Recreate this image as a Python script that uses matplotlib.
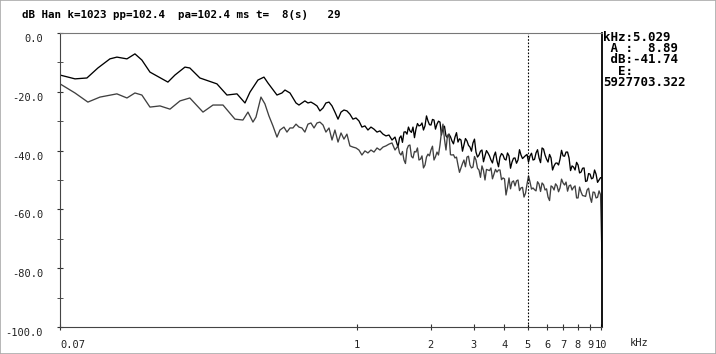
import numpy as np
import matplotlib.pyplot as plt
from matplotlib import transforms
from matplotlib.patches import Rectangle
from matplotlib.ticker import NullLocator

# Spectrum values (kHz, dB)
upper_khz_low = [0.0605, 0.0697, 0.0780, 0.0865, 0.0969, 0.1035, 0.1138, 0.1227, 0.131,
                 0.1414, 0.1675, 0.179, 0.1967, 0.206, 0.2265, 0.2536, 0.266, 0.2924,
                 0.3214, 0.3466, 0.3634, 0.3917, 0.4146, 0.4305, 0.4688, 0.4913, 0.5055]
upper_db_low = [-14.3, -15.6, -15.3, -11.9, -8.8, -8.2, -8.8, -7.1, -9.2,
                -13.3, -16.7, -14.3, -11.6, -11.9, -15.3, -16.7, -17.3, -21.1,
                -20.7, -23.8, -20.1, -16.0, -15.0, -17.0, -21.1, -20.4, -19.4]

lower_khz_low = [0.0605, 0.0697, 0.0787, 0.0882, 0.1035, 0.1138, 0.1227, 0.131, 0.1414,
                 0.1554, 0.1708, 0.1877, 0.206, 0.2332, 0.2563, 0.2817, 0.3153, 0.3400,
                 0.3565, 0.3737, 0.3845, 0.4030, 0.4183, 0.4345, 0.4513, 0.4688, 0.4822,
                 0.5007, 0.5151]
lower_db_low = [-17.3, -20.4, -23.5, -21.8, -20.7, -22.1, -20.4, -21.1, -25.2,
                -24.8, -25.9, -23.1, -22.1, -26.9, -24.5, -24.5, -29.3, -29.6,
                -26.9, -30.3, -28.6, -21.8, -24.1, -28.2, -31.6, -35.4, -33.0,
                -32.0, -33.7]

grid_khz = [0.530, 0.545, 0.561, 0.577, 0.593, 0.610, 0.628, 0.646, 0.665, 0.684,
            0.703, 0.724, 0.744, 0.766, 0.788, 0.810, 0.834, 0.858, 0.882, 0.907,
            0.933, 0.960, 0.988, 1.016, 1.045, 1.075, 1.106, 1.138, 1.171, 1.205,
            1.239, 1.275, 1.311, 1.349, 1.388, 1.428, 1.469, 1.511, 1.554, 1.599,
            1.644, 1.692, 1.740, 1.790, 1.842, 1.895, 1.949, 2.005, 2.063, 2.122,
            2.183, 2.245, 2.310, 2.376, 2.444, 2.515, 2.587, 2.661, 2.737, 2.816,
            2.897, 2.980, 3.066, 3.154, 3.244, 3.338, 3.433, 3.532, 3.633, 3.738,
            3.846, 3.956, 4.070, 4.187, 4.307, 4.431, 4.558, 4.689, 4.824, 4.963,
            5.105, 5.252, 5.403, 5.559, 5.719, 5.883, 6.052, 6.226, 6.405, 6.589,
            6.776, 6.973, 7.173, 7.379, 7.591, 7.810, 8.034, 8.265, 8.503, 8.747,
            8.995, 9.254, 9.520, 9.793, 10.07]
upper_db_grid = [-20.4, -22.1, -23.8, -24.5, -23.8, -23.1, -23.8, -23.5, -24.1, -24.8,
                 -26.5, -25.5, -23.8, -23.5, -24.8, -26.9, -29.3, -26.9, -26.2, -26.5,
                 -27.6, -29.3, -28.9, -29.9, -32.0, -31.6, -33.0, -32.0, -32.7, -33.7,
                 -33.3, -34.4, -35.0, -34.7, -36.4, -35.4, -38.8, -35.0, -33.7, -34.4,
                 -33.3, -32.0, -32.7, -31.6, -30.6, -31.6, -29.9, -31.3, -29.6, -31.0,
                 -30.3, -32.0, -35.0, -34.4, -36.7, -35.4, -37.1, -36.4, -38.1, -36.7,
                 -38.8, -37.4, -40.5, -41.5, -39.8, -41.8, -40.8, -43.2, -41.8, -43.5,
                 -42.2, -41.5, -43.2, -41.8, -43.9, -42.5, -43.2, -41.5, -42.2, -41.3,
                 -41.8, -43.2, -40.8, -42.5, -39.1, -41.5, -43.9, -42.5, -45.2, -44.2,
                 -42.9, -41.8, -40.5, -42.5, -45.2, -46.6, -44.9, -47.3, -45.9, -50.3,
                 -48.0, -49.3, -48.0, -50.0, -49.3]
lower_db_grid = [-32.3, -32.3, -31.0, -32.0, -32.3, -33.7, -31.0, -30.6, -32.3, -30.6,
                 -30.3, -31.3, -33.7, -32.3, -36.4, -33.0, -37.1, -34.0, -36.1, -34.4,
                 -38.4, -38.8, -39.1, -39.8, -41.5, -40.1, -40.8, -39.8, -40.5, -39.1,
                 -39.8, -38.8, -38.4, -37.8, -37.4, -39.8, -38.4, -41.5, -43.2, -39.5,
                 -38.1, -42.5, -40.5, -43.2, -41.8, -44.9, -41.2, -39.8, -43.2, -40.5,
                 -38.1, -31.0, -39.8, -34.4, -41.5, -42.5, -44.9, -45.9, -43.2, -42.2,
                 -44.9, -45.6, -43.2, -46.6, -45.2, -50.0, -46.6, -45.9, -48.0, -47.3,
                 -46.6, -49.3, -55.1, -49.3, -50.7, -52.0, -50.0, -52.7, -55.8, -51.4,
                 -50.7, -52.7, -53.7, -51.4, -51.0, -53.4, -55.8, -52.0, -53.4, -52.0,
                 -52.7, -51.0, -50.7, -52.0, -53.4, -52.0, -56.1, -54.1, -55.4, -53.4,
                 -55.8, -54.1, -56.1, -53.7, -76.5]

# extra bins between the grid points above 1.47 kHz, where the traces get dense
mid_khz = [1.490, 1.532, 1.576, 1.621, 1.668, 1.716, 1.765, 1.816, 1.868, 1.922,
           1.977, 2.034, 2.092, 2.152, 2.214, 2.277, 2.343, 2.410, 2.479, 2.551,
           2.624, 2.699, 2.776, 2.856, 2.938, 3.023, 3.110, 3.199, 3.291, 3.385,
           3.482, 3.582, 3.685, 3.792, 3.901, 4.013, 4.128, 4.247, 4.369, 4.494,
           4.623, 4.756, 4.893, 5.034, 5.178, 5.327, 5.481, 5.639, 5.801, 5.967,
           6.139, 6.315, 6.497, 6.682, 6.874, 7.073, 7.276, 7.485, 7.700, 7.922,
           8.149, 8.384, 8.625, 8.871, 9.124, 9.387, 9.656, 9.931]
upper_db_mid = [-35.7, -37.2, -33.6, -32.0, -33.8, -35.6, -30.8, -31.4, -33.0, -28.2,
                -31.2, -29.4, -32.7, -30.0, -34.7, -31.7, -35.6, -35.3, -37.7, -33.9,
                -36.0, -40.2, -35.9, -38.2, -40.2, -36.1, -42.2, -40.2, -43.8, -40.0,
                -41.8, -44.2, -40.5, -45.5, -41.0, -42.9, -40.8, -46.0, -42.6, -44.3,
                -39.7, -42.7, -41.7, -43.9, -40.9, -43.0, -39.7, -44.1, -39.5, -42.9,
                -41.3, -46.6, -44.3, -44.9, -39.9, -41.9, -40.5, -46.8, -45.6, -44.0,
                -47.6, -46.0, -50.5, -47.8, -49.6, -46.6, -50.8, -49.2]
lower_db_mid = [-40.8, -40.3, -44.4, -38.3, -42.0, -40.3, -39.1, -42.9, -45.9, -42.2,
                -41.8, -38.5, -42.1, -41.5, -33.6, -36.1, -34.8, -41.4, -41.4, -42.2,
                -47.4, -44.4, -45.5, -41.9, -45.9, -42.0, -46.0, -49.1, -46.8, -46.4,
                -46.8, -49.6, -46.4, -46.6, -49.9, -49.6, -52.5, -53.0, -50.3, -50.3,
                -53.6, -52.5, -54.5, -48.6, -53.1, -53.3, -50.6, -53.9, -51.6, -53.0,
                -57.0, -52.4, -51.3, -54.0, -49.7, -51.7, -53.8, -51.7, -52.5, -56.1,
                -52.4, -55.3, -55.6, -52.8, -57.6, -54.2, -55.9, -55.0]

cursor_khz = 5.029
title_text = "dB Han k=1023 pp=102.4  pa=102.4 ms t=  8(s)   29"
readout = ["kHz:5.029", " A :  8.89", " dB:-41.74", "  E:", "5927703.322"]
x_ticks = [0.0605, 1, 2, 3, 4, 5, 6, 7, 8, 9, 10]
x_labels = ["0.07", "1", "2", "3", "4", "5", "6", "7", "8", "9", "10"]
y_ticks = [-100, -80, -60, -40, -20, 0]
y_minor = [-90, -70, -50, -30, -10]


def merge(khz_a, db_a, khz_b, db_b):
    pairs = sorted(zip(khz_a + khz_b, db_a + db_b))
    return [p[0] for p in pairs], [p[1] for p in pairs]


upper_khz, upper_db = merge(upper_khz_low + grid_khz, upper_db_low + upper_db_grid,
                            mid_khz, upper_db_mid)
lower_khz, lower_db = merge(lower_khz_low + grid_khz, lower_db_low + lower_db_grid,
                            mid_khz, lower_db_mid)

W, H = 716, 354
fig = plt.figure(figsize=(W / 100, H / 100), dpi=100)
ax = fig.add_axes([60 / W, 27 / H, 542 / W, 294 / H])

ax.plot(upper_khz, upper_db, color='black', lw=0.95)
ax.plot(lower_khz, lower_db, color='#404040', lw=0.95)
ax.axvline(cursor_khz, color='black', lw=0.8, ls=(0, (1.5, 1.5)))

ax.set_xscale('log')
ax.set_xlim(0.0605, 10.07)
ax.set_ylim(-100, 0)

mono = 'DejaVu Sans Mono'
ax.set_xticks(x_ticks)
ax.set_xticklabels(x_labels, family=mono, size=7.5, color='#222222')
ax.xaxis.set_minor_locator(NullLocator())
ax.get_xticklabels()[0].set_ha('left')
ax.set_yticks(y_ticks)
ax.set_yticklabels([f'{v:.1f}' for v in y_ticks], family=mono, size=7.5, color='#222222')
ax.set_yticks(y_minor, minor=True)
ax.tick_params(axis='x', which='both', direction='inout', length=5, pad=6.8, color='#333333')
ax.tick_params(axis='y', which='both', direction='inout', length=5, pad=9.7, color='#333333')

down = transforms.ScaledTranslation(0, -0.05, fig.dpi_scale_trans)
for lbl in ax.get_yticklabels():
    lbl.set_transform(lbl.get_transform() + down)

ax.spines['left'].set_color('#444444')
ax.spines['bottom'].set_color('#444444')
ax.spines['top'].set_color('#777777')
ax.spines['right'].set_color('black')
ax.spines['right'].set_linewidth(1.3)

fig.text(22 / W, 1 - 15 / H, title_text, family=mono, weight='bold', size=7.8,
         ha='left', va='center')
fig.text(630 / W, 1 - 343 / H, 'kHz', family=mono, size=7.5, ha='left', va='center',
         color='#222222')
fig.text(603 / W, 1 - 31 / H, '\n'.join(readout), family=mono, weight='bold',
         size=9, ha='left', va='top', linespacing=0.82)

fig.patches.append(Rectangle((0, 0), 1, 1, transform=fig.transFigure, fill=False,
                             edgecolor='#aaaaaa', lw=1.2))

fig.savefig('out.png', dpi=100)
